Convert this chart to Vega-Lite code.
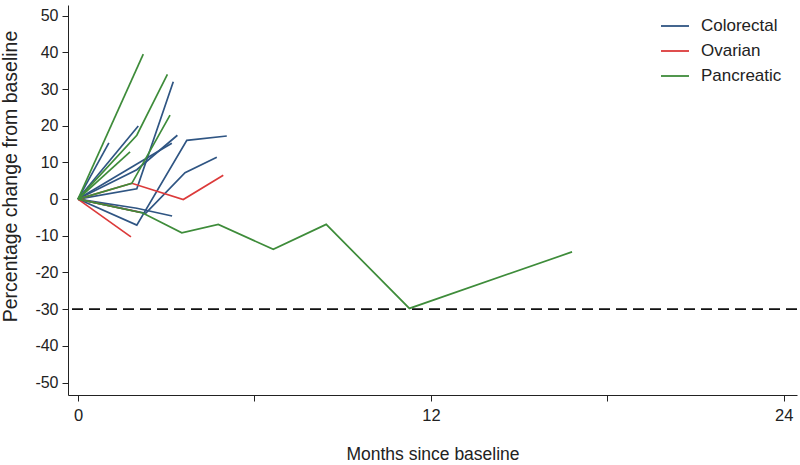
{
  "$schema": "https://vega.github.io/schema/vega-lite/v6.json",
  "width": 729,
  "height": 390,
  "autosize": {"type": "none"},
  "padding": {"left": 68, "top": 5, "right": 3, "bottom": 70},
  "background": "white",
  "config": {
    "font": "Liberation Sans",
    "view": {"stroke": null},
    "axis": {"grid": false, "domainColor": "#222", "tickColor": "#222", "labelColor": "#222", "titleColor": "#222", "labelFont": "Liberation Sans", "titleFont": "Liberation Sans", "titleFontWeight": "normal", "labelOverlap": false}
  },
  "datasets": {
    "pts": [
      {"id": "B1", "type": "Colorectal", "month": 0, "pct": 0},
      {"id": "B1", "type": "Colorectal", "month": 1.05, "pct": 15.3},
      {"id": "B2", "type": "Colorectal", "month": 0, "pct": 0},
      {"id": "B2", "type": "Colorectal", "month": 2.05, "pct": 19.9},
      {"id": "B3", "type": "Colorectal", "month": 0, "pct": 0},
      {"id": "B3", "type": "Colorectal", "month": 2.0, "pct": -7.1},
      {"id": "B3", "type": "Colorectal", "month": 3.7, "pct": 16.0},
      {"id": "B3", "type": "Colorectal", "month": 5.06, "pct": 17.2},
      {"id": "B4", "type": "Colorectal", "month": 0, "pct": 0},
      {"id": "B4", "type": "Colorectal", "month": 2.0, "pct": 2.8},
      {"id": "B4", "type": "Colorectal", "month": 3.24, "pct": 32.0},
      {"id": "B5", "type": "Colorectal", "month": 0, "pct": 0},
      {"id": "B5", "type": "Colorectal", "month": 2.3, "pct": -3.9},
      {"id": "B5", "type": "Colorectal", "month": 3.64, "pct": 7.2},
      {"id": "B5", "type": "Colorectal", "month": 4.72, "pct": 11.4},
      {"id": "B6", "type": "Colorectal", "month": 0, "pct": 0},
      {"id": "B6", "type": "Colorectal", "month": 2.0, "pct": -2.5},
      {"id": "B6", "type": "Colorectal", "month": 3.2, "pct": -4.6},
      {"id": "B7", "type": "Colorectal", "month": 0, "pct": 0},
      {"id": "B7", "type": "Colorectal", "month": 2.0, "pct": 8.0},
      {"id": "B7", "type": "Colorectal", "month": 3.38, "pct": 17.4},
      {"id": "B8", "type": "Colorectal", "month": 0, "pct": 0},
      {"id": "B8", "type": "Colorectal", "month": 3.19, "pct": 15.2},
      {"id": "R1", "type": "Ovarian", "month": 0, "pct": 0},
      {"id": "R1", "type": "Ovarian", "month": 1.83, "pct": 4.3},
      {"id": "R1", "type": "Ovarian", "month": 3.58, "pct": -0.1},
      {"id": "R1", "type": "Ovarian", "month": 4.94, "pct": 6.5},
      {"id": "R2", "type": "Ovarian", "month": 0, "pct": 0},
      {"id": "R2", "type": "Ovarian", "month": 1.8, "pct": -10.3},
      {"id": "R3", "type": "Ovarian", "month": 0, "pct": 0},
      {"id": "R3", "type": "Ovarian", "month": 2.1, "pct": -3.6},
      {"id": "G1", "type": "Pancreatic", "month": 0, "pct": 0},
      {"id": "G1", "type": "Pancreatic", "month": 2.22, "pct": 39.5},
      {"id": "G2", "type": "Pancreatic", "month": 0, "pct": 0},
      {"id": "G2", "type": "Pancreatic", "month": 2.0, "pct": 17.4},
      {"id": "G2", "type": "Pancreatic", "month": 3.04, "pct": 34.0},
      {"id": "G3", "type": "Pancreatic", "month": 0, "pct": 0},
      {"id": "G3", "type": "Pancreatic", "month": 1.83, "pct": 4.3},
      {"id": "G3", "type": "Pancreatic", "month": 3.13, "pct": 22.9},
      {"id": "G4", "type": "Pancreatic", "month": 0, "pct": 0},
      {"id": "G4", "type": "Pancreatic", "month": 1.77, "pct": 12.9},
      {"id": "G5", "type": "Pancreatic", "month": 0, "pct": 0},
      {"id": "G5", "type": "Pancreatic", "month": 2.2, "pct": -3.8},
      {"id": "G5", "type": "Pancreatic", "month": 3.53, "pct": -9.2},
      {"id": "G5", "type": "Pancreatic", "month": 4.77, "pct": -6.9},
      {"id": "G5", "type": "Pancreatic", "month": 6.64, "pct": -13.7},
      {"id": "G5", "type": "Pancreatic", "month": 8.44, "pct": -6.9},
      {"id": "G5", "type": "Pancreatic", "month": 11.27, "pct": -29.8},
      {"id": "G5", "type": "Pancreatic", "month": 16.8, "pct": -14.4}
    ],
    "ref": [{"y": -30}]
  },
  "layer": [
    {
      "data": {"name": "ref"},
      "mark": {"type": "rule", "color": "#111", "strokeWidth": 1.6, "strokeDash": [11, 6]},
      "encoding": {"y": {"field": "y", "type": "quantitative", "scale": {"domain": [-53.4, 52.9], "nice": false, "zero": false},
        "axis": {"values": [-50, -40, -30, -20, -10, 0, 10, 20, 30, 40, 50], "labelExpr": "'' + datum.value", "labelOverlap": false, "title": "Percentage change from baseline", "titleFontSize": 19.5, "titleX": -48, "titleY": 171, "labelFontSize": 16, "labelPadding": 4, "tickSize": 6}}}
    },
    {
      "data": {"name": "pts"},
      "mark": {"type": "line", "strokeWidth": 1.7},
      "encoding": {
        "x": {
          "field": "month", "type": "quantitative",
          "scale": {"domain": [-0.34, 24.45], "nice": false, "zero": false},
          "axis": {"values": [0, 6, 12, 18, 24], "labelExpr": "datum.value % 12 == 0 ? '' + datum.value : ''", "title": "Months since baseline", "titleFontSize": 17.5, "titlePadding": 22, "labelFontSize": 16.5, "labelPadding": 6, "tickSize": 6, "labelFlush": false, "labelOverlap": false}
        },
        "y": {
          "field": "pct", "type": "quantitative",
          "scale": {"domain": [-53.4, 52.9], "nice": false, "zero": false},
          "axis": {"values": [-50, -40, -30, -20, -10, 0, 10, 20, 30, 40, 50], "labelExpr": "'' + datum.value", "labelOverlap": false, "title": "Percentage change from baseline", "titleFontSize": 19.5, "titleX": -48, "titleY": 171, "labelFontSize": 16, "labelPadding": 4, "tickSize": 6}
        },
        "detail": {"field": "id"},
        "color": {
          "field": "type", "type": "nominal",
          "scale": {"domain": ["Colorectal", "Ovarian", "Pancreatic"], "range": ["#2f5583", "#dc3a3a", "#3e8c3a"]},
          "legend": {"title": null, "orient": "none", "legendX": 592, "legendY": 6, "symbolType": "stroke", "symbolSize": 784, "symbolStrokeWidth": 1.8, "labelFontSize": 17, "labelColor": "#222", "labelOffset": 11, "rowPadding": 2, "padding": 0}
        }
      }
    }
  ]
}
